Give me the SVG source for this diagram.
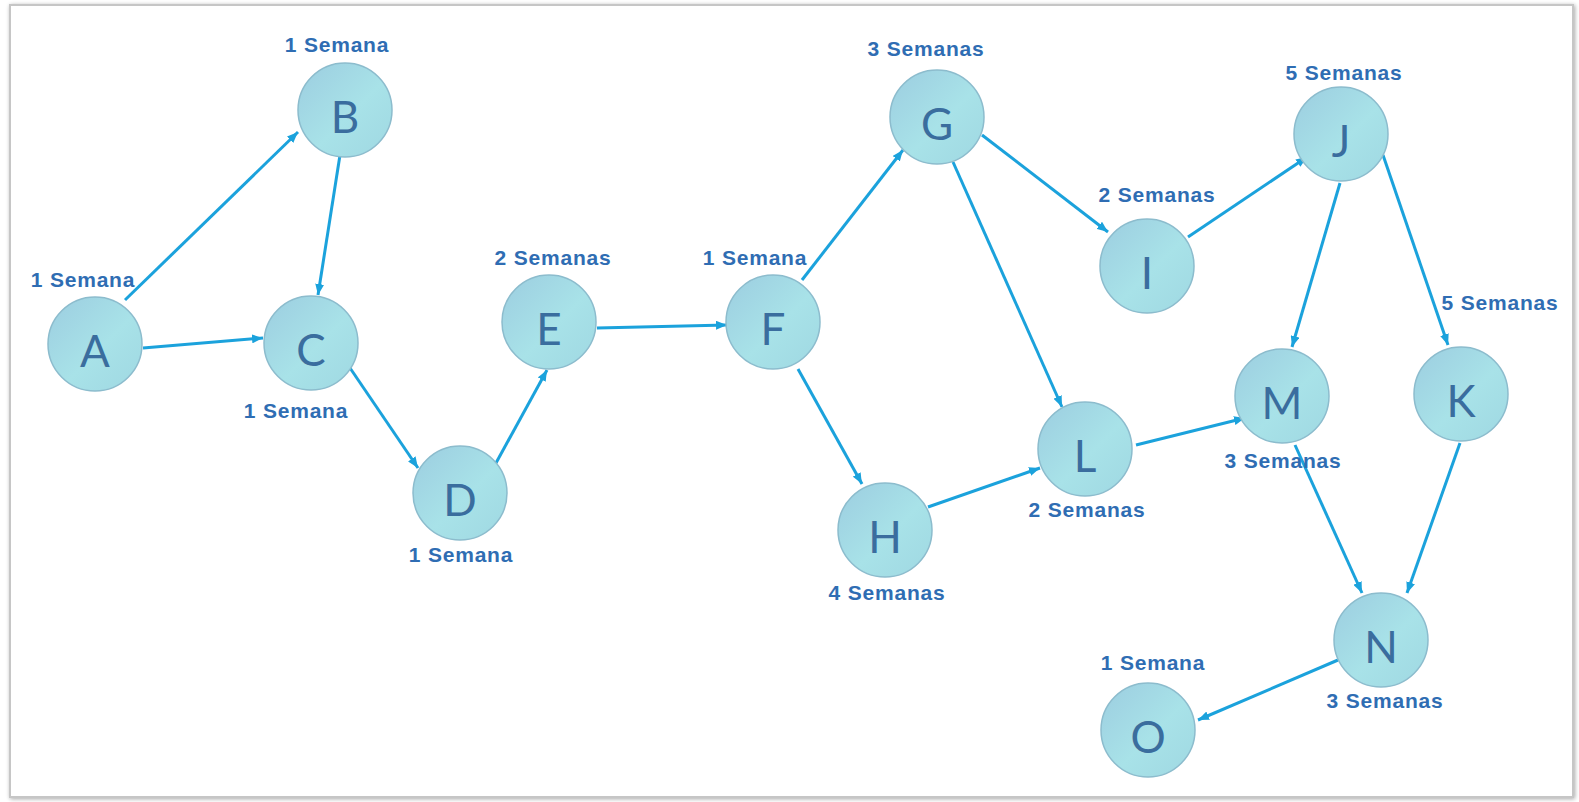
<svg xmlns="http://www.w3.org/2000/svg" width="1579" height="802" viewBox="0 0 1579 802">
  <defs>
    <linearGradient id="nodeFill" x1="0" y1="0" x2="1" y2="1">
      <stop offset="0" stop-color="#9ccde0"/>
      <stop offset="0.55" stop-color="#a8e2e8"/>
      <stop offset="1" stop-color="#9fd8e2"/>
    </linearGradient>
    <filter id="frameShadow" x="-2%" y="-2%" width="104%" height="104%">
      <feGaussianBlur in="SourceAlpha" stdDeviation="2"/>
      <feOffset dx="1" dy="1" result="b"/>
      <feComponentTransfer><feFuncA type="linear" slope="0.35"/></feComponentTransfer>
      <feMerge><feMergeNode/><feMergeNode in="SourceGraphic"/></feMerge>
    </filter>
    <marker id="arrow" viewBox="0 0 11 9" refX="11" refY="4.5" markerWidth="11" markerHeight="9" markerUnits="userSpaceOnUse" orient="auto">
      <path d="M0,0 L11,4.5 L0,9 Z" fill="#1ba2dc"/>
    </marker>
  </defs>
  <style>
    .node circle { fill: url(#nodeFill); stroke: #8cbccd; stroke-width: 1.5; }
    .node .letter { font-family: Lato, "Liberation Sans", sans-serif; font-weight: 400; font-size: 44px; fill: #3a6d9e; text-anchor: middle; }
    .dur { font-family: "Liberation Sans", Arial, sans-serif; font-weight: bold; font-size: 21px; letter-spacing: 0.8px; fill: #2f6db3; text-anchor: middle; }
    .edges line { stroke: #1ba2dc; stroke-width: 3; marker-end: url(#arrow); }
  </style>

  <rect x="0" y="0" width="1579" height="802" fill="#ffffff"/>
  <rect x="10" y="5" width="1563" height="792" fill="#ffffff" stroke="#c6c6c6" stroke-width="2" filter="url(#frameShadow)"/>

  <!-- precedence connectors -->
  <g id="connectors" class="edges">
    <line x1="125" y1="300" x2="298" y2="132"/>
    <line x1="143" y1="348" x2="263" y2="338"/>
    <line x1="340" y1="155" x2="318" y2="295"/>
    <line x1="348" y1="365" x2="418" y2="468"/>
    <line x1="496" y1="463" x2="547" y2="370"/>
    <line x1="597" y1="328" x2="727" y2="325"/>
    <line x1="802" y1="280" x2="903" y2="150"/>
    <line x1="798" y1="369" x2="862" y2="484"/>
    <line x1="982" y1="135" x2="1108" y2="232"/>
    <line x1="953" y1="162" x2="1062" y2="407"/>
    <line x1="1188" y1="237" x2="1307" y2="157"/>
    <line x1="1340" y1="183" x2="1292" y2="347"/>
    <line x1="1383" y1="155" x2="1448" y2="345"/>
    <line x1="928" y1="507" x2="1040" y2="468"/>
    <line x1="1136" y1="445" x2="1245" y2="418"/>
    <line x1="1295" y1="445" x2="1362" y2="593"/>
    <line x1="1460" y1="443" x2="1407" y2="593"/>
    <line x1="1338" y1="660" x2="1198" y2="720"/>
  </g>

  <!-- activities -->
  <g id="node-A" class="node"><circle cx="95" cy="344" r="47"/><text class="letter" x="95" y="367">A</text><text class="dur" x="83" y="287">1 Semana</text></g>
  <g id="node-B" class="node"><circle cx="345" cy="110" r="47"/><text class="letter" x="345" y="133">B</text><text class="dur" x="337" y="52">1 Semana</text></g>
  <g id="node-C" class="node"><circle cx="311" cy="343" r="47"/><text class="letter" x="311" y="366">C</text><text class="dur" x="296" y="418">1 Semana</text></g>
  <g id="node-D" class="node"><circle cx="460" cy="493" r="47"/><text class="letter" x="460" y="516">D</text><text class="dur" x="461" y="562">1 Semana</text></g>
  <g id="node-E" class="node"><circle cx="549" cy="322" r="47"/><text class="letter" x="549" y="345">E</text><text class="dur" x="553" y="265">2 Semanas</text></g>
  <g id="node-F" class="node"><circle cx="773" cy="322" r="47"/><text class="letter" x="773" y="345">F</text><text class="dur" x="755" y="265">1 Semana</text></g>
  <g id="node-G" class="node"><circle cx="937" cy="117" r="47"/><text class="letter" x="937" y="140">G</text><text class="dur" x="926" y="56">3 Semanas</text></g>
  <g id="node-H" class="node"><circle cx="885" cy="530" r="47"/><text class="letter" x="885" y="553">H</text><text class="dur" x="887" y="600">4 Semanas</text></g>
  <g id="node-I" class="node"><circle cx="1147" cy="266" r="47"/><text class="letter" x="1147" y="289">I</text><text class="dur" x="1157" y="202">2 Semanas</text></g>
  <g id="node-J" class="node"><circle cx="1341" cy="134" r="47"/><text class="letter" x="1341" y="157">J</text><text class="dur" x="1344" y="80">5 Semanas</text></g>
  <g id="node-K" class="node"><circle cx="1461" cy="394" r="47"/><text class="letter" x="1461" y="417">K</text><text class="dur" x="1500" y="310">5 Semanas</text></g>
  <g id="node-L" class="node"><circle cx="1085" cy="449" r="47"/><text class="letter" x="1085" y="472">L</text><text class="dur" x="1087" y="517">2 Semanas</text></g>
  <g id="node-M" class="node"><circle cx="1282" cy="396" r="47"/><text class="letter" x="1282" y="419">M</text><text class="dur" x="1283" y="468">3 Semanas</text></g>
  <g id="node-N" class="node"><circle cx="1381" cy="640" r="47"/><text class="letter" x="1381" y="663">N</text><text class="dur" x="1385" y="708">3 Semanas</text></g>
  <g id="node-O" class="node"><circle cx="1148" cy="730" r="47"/><text class="letter" x="1148" y="753">O</text><text class="dur" x="1153" y="670">1 Semana</text></g>
</svg>
